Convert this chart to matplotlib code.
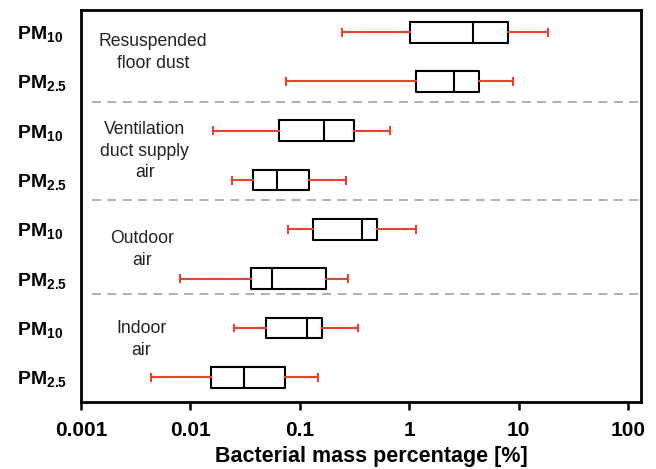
import numpy as np
import matplotlib.pyplot as plt
import matplotlib.transforms as mtransforms

plt.rcParams['font.family'] = ['Liberation Sans', 'DejaVu Sans']
plt.rcParams['mathtext.fontset'] = 'custom'
plt.rcParams['mathtext.rm'] = 'Liberation Sans:bold'
plt.rcParams['mathtext.bf'] = 'Liberation Sans:bold'

# rows from top to bottom
row_labels = [r"PM$_{10}$", r"PM$_{2.5}$"] * 4
whislo = [0.241, 0.0743, 0.0162, 0.0239, 0.0785, 0.00804, 0.0250, 0.00434]
q1 = [1.02, 1.153, 0.0645, 0.0376, 0.133, 0.0356, 0.0488, 0.01534]
med = [3.85, 2.57, 0.167, 0.0623, 0.373, 0.0561, 0.117, 0.0309]
q3 = [8.05, 4.35, 0.315, 0.122, 0.511, 0.173, 0.159, 0.0732]
whishi = [18.7, 8.83, 0.667, 0.264, 1.153, 0.277, 0.343, 0.148]

groups = ["Resuspended\nfloor dust", "Ventilation\nduct supply\nair", "Outdoor\nair", "Indoor\nair"]
group_x = [0.129, 0.114, 0.109, 0.108]
group_y = [0.415, 2.41, 4.41, 6.23]
separators = [1.417, 3.40, 5.32]

xticks = [0.001, 0.01, 0.1, 1, 10, 100]
xticklabels = ["0.001", "0.01", "0.1", "1", "10", "100"]

red = "#e8432e"

fig = plt.figure(figsize=(6.56, 4.69), dpi=100)
ax = fig.add_axes([0.1235, 0.1429, 0.8535, 0.8358])

stats = []
for i in range(len(med)):
    stats.append(dict(whislo=whislo[i], q1=q1[i], med=med[i], q3=q3[i],
                      whishi=whishi[i], fliers=[]))

ax.bxp(stats, positions=np.arange(len(med)), vert=False, widths=0.42,
       showfliers=False, capwidths=0.14,
       boxprops=dict(color="black", linewidth=1.5),
       medianprops=dict(color="black", linewidth=1.5),
       whiskerprops=dict(color=red, linewidth=1.5),
       capprops=dict(color=red, linewidth=1.5))

ax.set_xscale("log")
ax.set_xlim(0.001, 131)
ax.set_ylim(7.5, -0.45)
ax.minorticks_off()
ax.set_xticks(xticks)
ax.set_xticklabels(xticklabels, fontsize=15, fontweight="bold")
ax.tick_params(axis="x", direction="out", length=6, width=1.8, pad=8)

ax.set_yticks(np.arange(len(med)))
ax.set_yticklabels(row_labels, fontsize=14, fontweight="bold")
ax.tick_params(axis="y", length=0, pad=46)
for lab in ax.get_yticklabels():
    lab.set_horizontalalignment("left")

for s in ax.spines.values():
    s.set_linewidth(2)

for y in separators:
    ax.axhline(y, xmin=0.02, xmax=1.0, color="#aaaaaa", linestyle=(0, (5, 3.5)), linewidth=1.3)

trans = mtransforms.blended_transform_factory(ax.transAxes, ax.transData)
for name, gx, gy in zip(groups, group_x, group_y):
    ax.text(gx, gy, name, transform=trans, ha="center", va="center",
            fontsize=12.7, color="#222222", linespacing=1.35)

ax.set_xlabel("Bacterial mass percentage [%]", fontsize=15.5, fontweight="bold")
ax.xaxis.set_label_coords(0.518, -0.113)

fig.savefig("out.png", dpi=100)
